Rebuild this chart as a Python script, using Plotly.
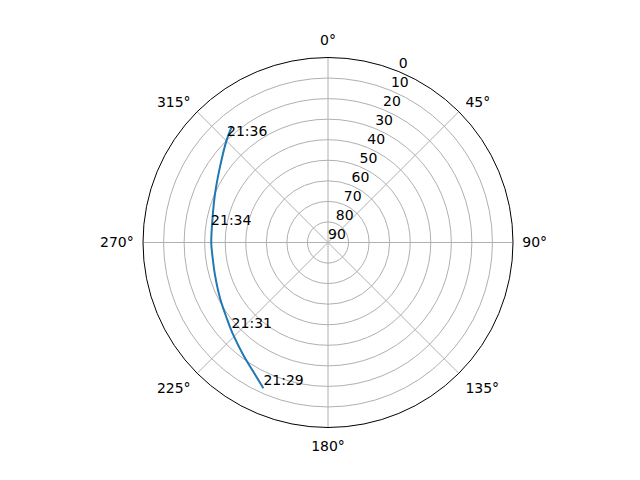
import plotly.graph_objects as go

# Satellite pass (sky plot): azimuth (deg, clockwise from N) and elevation (deg)
azimuth = [203.9, 210.0, 217.0, 225.7, 233.2, 242.7, 254.0, 263.8, 269.6, 281.0, 293.5, 305.1, 315.3, 320.5]
elevation = [12.4, 17.4, 21.5, 25.6, 28.5, 30.9, 32.8, 33.4, 33.2, 32.7, 30.1, 25.8, 19.9, 16.6]

label_times = ["21:29", "21:31", "21:34", "21:36"]
label_az = [203.9, 227.2, 276.9, 315.6]
label_el = [12.4, 26.1, 32.7, 19.8]

angle_ticks = [0, 45, 90, 135, 180, 225, 270, 315]
angle_labels = ["0°", "45°", "90°", "135°", "180°", "225°", "270°", "315°"]
radial_ticks = [0, 10, 20, 30, 40, 50, 60, 70, 80, 90]
radial_labels = ["0", "10", "20", "30", "40", "50", "60", "70", "80", "90"]
radial_label_angle = 22.5

font = dict(family="DejaVu Sans", size=14, color="black")

# page body has an 8px margin, so the figure is drawn 8px in from the corner
W, H = 624, 464
cx, cy, R = 320, 234.5, 185

fig = go.Figure()
fig.add_trace(go.Scatterpolar(
    theta=azimuth, r=elevation, mode="lines",
    line=dict(color="#1f77b4", width=2, shape="spline"),
    showlegend=False, hoverinfo="skip",
))
fig.add_trace(go.Scatterpolar(
    theta=label_az, r=label_el, mode="text", text=label_times,
    textposition="top right", textfont=font,
    showlegend=False, hoverinfo="skip",
))
# radial tick labels (matplotlib-style placement along the 22.5° direction)
fig.add_trace(go.Scatterpolar(
    theta=[radial_label_angle] * len(radial_ticks), r=radial_ticks,
    mode="text", text=radial_labels,
    textposition="top right", textfont=font,
    showlegend=False, hoverinfo="skip",
))

fig.update_layout(
    width=W, height=H,
    margin=dict(l=0, r=0, t=0, b=0),
    paper_bgcolor="white",
    font=font,
    polar=dict(
        domain=dict(x=[(cx - R) / W, (cx + R) / W],
                    y=[(H - cy - R) / H, (H - cy + R) / H]),
        bgcolor="white",
        angularaxis=dict(
            rotation=90, direction="clockwise",
            tickmode="array", tickvals=angle_ticks, ticktext=angle_labels,
            showline=True, linecolor="black", linewidth=1,
            showgrid=True, gridcolor="#b0b0b0", gridwidth=1,
            ticks="outside", ticklen=6, tickcolor="rgba(0,0,0,0)",
            tickfont=font,
        ),
        radialaxis=dict(
            range=[90, 0],
            tickmode="array", tickvals=radial_ticks,
            showticklabels=False,
            showline=False, ticks="",
            showgrid=True, gridcolor="#b0b0b0", gridwidth=1,
        ),
    ),
)

fig.write_html("out.html")
